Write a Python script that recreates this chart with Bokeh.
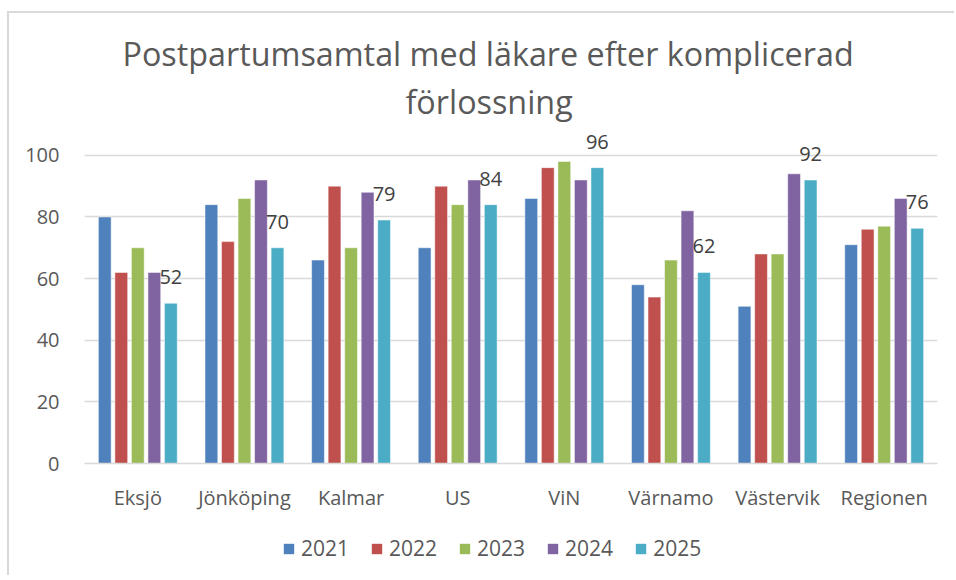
from bokeh.plotting import figure
from bokeh.layouts import column
from bokeh.models import ColumnDataSource, FactorRange, Legend, LegendItem, Title, FixedTicker, Range1d
from bokeh.transform import dodge
from bokeh.core.properties import value
from bokeh.embed import file_html
from bokeh.resources import INLINE

categories = ["Eksjö", "Jönköping", "Kalmar", "US", "ViN", "Värnamo", "Västervik", "Regionen"]
years = ["2021", "2022", "2023", "2024", "2025"]
v2021 = [80, 84, 66, 70, 86, 58, 51, 71]
v2022 = [62, 72, 90, 90, 96, 54, 68, 76]
v2023 = [70, 86, 70, 84, 98, 66, 68, 77]
v2024 = [62, 92, 88, 92, 92, 82, 94, 86]
v2025 = [52, 70, 79, 84, 96, 62, 92, 76.3]
labels2025 = ["52", "70", "79", "84", "96", "62", "92", "76"]
y_ticks = [0, 20, 40, 60, 80, 100]

colors = ["#4F81BD", "#C0504D", "#9BBB59", "#8064A2", "#4BACC6"]
offsets = [-0.31, -0.155, 0.0, 0.155, 0.31]

src = ColumnDataSource(dict(cat=categories, y2021=v2021, y2022=v2022, y2023=v2023,
                            y2024=v2024, y2025=v2025, lab=labels2025))

FONT = "Open Sans"
TXT = "#595959"

p = figure(x_range=FactorRange(*categories), y_range=Range1d(0, 110),
           frame_width=853, frame_height=339,
           output_backend="svg", toolbar_location=None, title=None,
           min_border_left=75, min_border_right=17, min_border_top=111, min_border_bottom=60)
p.outline_line_color = None
p.background_fill_color = "white"
p.border_fill_color = "white"

for yr, col, off in zip(years, colors, offsets):
    p.vbar(x=dodge("cat", off, range=p.x_range), top="y" + yr, width=0.12, source=src,
           fill_color=col, line_color="white", line_alpha=0.5, line_width=1)

p.text(x=dodge("cat", 0.31, range=p.x_range), y="y2025", text="lab", source=src,
       text_align="center", text_baseline="middle", y_offset=-26,
       text_font=value(FONT), text_font_size="20px", text_color="#404040")

p.xgrid.grid_line_color = None
p.ygrid.grid_line_color = "#d9d9d9"
p.ygrid.grid_line_width = 1.5
p.yaxis.ticker = FixedTicker(ticks=y_ticks)
p.yaxis.axis_line_color = None
p.yaxis.major_tick_line_color = None
p.yaxis.minor_tick_line_color = None
p.yaxis.major_label_text_font = FONT
p.yaxis.major_label_text_font_size = "20px"
p.yaxis.major_label_text_color = TXT
p.yaxis.major_label_standoff = 19

p.xaxis.axis_line_color = "#d9d9d9"
p.xaxis.axis_line_width = 1.5
p.xaxis.major_tick_line_color = None
p.xaxis.minor_tick_line_color = None
p.xaxis.major_label_text_font = FONT
p.xaxis.major_label_text_font_size = "20px"
p.xaxis.major_label_text_color = TXT
p.xaxis.major_label_standoff = 14

p.add_layout(Title(text="förlossning", align="left", offset=321, text_font=FONT,
                   text_font_size="32.3px", text_font_style="normal", text_color=TXT,
                   standoff=4), "above")
p.add_layout(Title(text="Postpartumsamtal med läkare efter komplicerad", align="left", offset=38,
                   text_font=FONT, text_font_size="32.3px", text_font_style="normal",
                   text_color=TXT, standoff=0), "above")

# legend in its own strip below the chart; its swatch renderers fall outside the strip's range
lg = figure(width=945, height=52, x_range=FactorRange(*categories), y_range=Range1d(200, 201),
            output_backend="svg", toolbar_location=None, title=None,
            min_border_left=0, min_border_right=0, min_border_top=0, min_border_bottom=0)
lg.axis.visible = False
lg.grid.visible = False
lg.outline_line_color = None
lg.background_fill_color = "white"
lg.border_fill_color = "white"
lg_renderers = [lg.vbar(x="cat", top="y" + yr, width=0.1, source=src, fill_color=col, line_color=None)
                for yr, col in zip(years, colors)]

legend = Legend(items=[LegendItem(label=yr, renderers=[r]) for yr, r in zip(years, lg_renderers)],
                orientation="horizontal", location=(198, 13),
                label_text_font=FONT, label_text_font_size="21px", label_text_color=TXT,
                glyph_width=13, glyph_height=13, spacing=21, label_standoff=6,
                padding=0, margin=0,
                border_line_color=None, background_fill_alpha=0)
lg.add_layout(legend, "center")

layout = column(p, lg, spacing=0)
layout.styles = {"margin-left": "7px", "margin-top": "11px", "box-sizing": "content-box",
                 "overflow": "visible",
                 "border-left": "2px solid #d9d9d9", "border-top": "2px solid #d9d9d9"}

open("out.html", "w").write(file_html(layout, INLINE))
